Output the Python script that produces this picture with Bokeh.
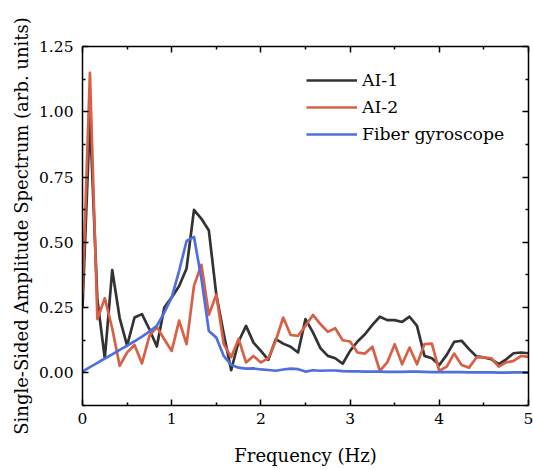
from bokeh.plotting import figure
from bokeh.models import (LinearAxis, Range1d, Legend, LegendItem, FixedTicker,
                          NumeralTickFormatter, CustomJSTickFormatter)
from bokeh.embed import file_html
from bokeh.resources import INLINE

freq = [0.0, 0.0833, 0.1667, 0.25, 0.3333, 0.4167, 0.5, 0.5833, 0.6667, 0.75,
        0.8333, 0.9167, 1.0, 1.0833, 1.1667, 1.25, 1.3333, 1.4167, 1.5, 1.5833,
        1.6667, 1.75, 1.8333, 1.9167, 2.0, 2.0833, 2.1667, 2.25, 2.3333, 2.4167,
        2.5, 2.5833, 2.6667, 2.75, 2.8333, 2.9167, 3.0, 3.0833, 3.1667, 3.25,
        3.3333, 3.4167, 3.5, 3.5833, 3.6667, 3.75, 3.8333, 3.9167, 4.0, 4.0833,
        4.1667, 4.25, 4.3333, 4.4167, 4.5, 4.5833, 4.6667, 4.75, 4.8333, 4.9167, 5.0]

ai1 = [0.25, 0.98, 0.28, 0.056, 0.394, 0.21, 0.104, 0.212, 0.225, 0.167,
       0.101, 0.25, 0.289, 0.333, 0.40, 0.624, 0.59, 0.545, 0.30, 0.15,
       0.01, 0.12, 0.18, 0.116, 0.084, 0.05, 0.129, 0.112, 0.10, 0.078,
       0.206, 0.155, 0.095, 0.065, 0.056, 0.035, 0.084, 0.12, 0.148, 0.184,
       0.215, 0.202, 0.202, 0.195, 0.215, 0.18, 0.065, 0.056, 0.03, 0.069,
       0.119, 0.123, 0.091, 0.063, 0.059, 0.052, 0.033, 0.052, 0.075, 0.078, 0.075]

ai2 = [0.3, 1.149, 0.206, 0.286, 0.17, 0.027, 0.078, 0.107, 0.036, 0.142,
       0.176, 0.129, 0.084, 0.20, 0.11, 0.334, 0.414, 0.222, 0.30, 0.11,
       0.06, 0.13, 0.04, 0.065, 0.04, 0.056, 0.123, 0.212, 0.145, 0.142,
       0.18, 0.222, 0.187, 0.157, 0.171, 0.125, 0.12, 0.078, 0.074, 0.10,
       0.008, 0.04, 0.11, 0.033, 0.097, 0.033, 0.11, 0.112, 0.008, 0.024,
       0.074, 0.03, 0.02, 0.059, 0.059, 0.056, 0.024, 0.04, 0.046, 0.065, 0.061]

gyro = [0.005, 0.022, 0.038, 0.055, 0.071, 0.088, 0.104, 0.121, 0.139, 0.158,
        0.18, 0.231, 0.289, 0.391, 0.505, 0.521, 0.36, 0.16, 0.135, 0.065,
        0.031, 0.02, 0.016, 0.017, 0.013, 0.011, 0.008, 0.013, 0.016, 0.014,
        0.005, 0.01, 0.008, 0.009, 0.009, 0.007, 0.006, 0.006, 0.005, 0.005,
        0.005, 0.004, 0.004, 0.004, 0.005, 0.005, 0.004, 0.003, 0.003, 0.003,
        0.003, 0.003, 0.002, 0.002, 0.002, 0.002, 0.001, 0.001, 0.002, 0.002, 0.001]

series_labels = ["AI-1", "AI-2", "Fiber gyroscope"]
series_colors = ["#333333", "#d95f45", "#4f6fe0"]

x_major = [0, 1, 2, 3, 4, 5]
x_minor = [0.5, 1.5, 2.5, 3.5, 4.5]
y_major = [0.0, 0.25, 0.5, 0.75, 1.0, 1.25]
y_minor = [-0.125, 0.125, 0.375, 0.625, 0.875, 1.125]

FONT = "DejaVu Serif"

p = figure(width=533, height=470, x_range=Range1d(0, 5), y_range=Range1d(-0.125, 1.25),
           output_backend="svg", toolbar_location=None,
           min_border_left=82, min_border_right=5, min_border_top=46, min_border_bottom=65,
           x_axis_label="Frequency (Hz)",
           y_axis_label="Single-Sided Amplitude Spectrum (arb. units)")
p.xgrid.visible = False
p.ygrid.visible = False
p.outline_line_color = None
p.background_fill_color = "white"

renderers = []
for ys, c in zip([ai1, ai2, gyro], series_colors):
    r = p.line(freq, ys, line_color=c, line_width=2.7, line_join="round")
    renderers.append(r)


def style_axis(ax, ticks, minor, label=True):
    ax.ticker = FixedTicker(ticks=ticks, minor_ticks=minor)
    ax.axis_line_color = "black"
    ax.axis_line_width = 1.5
    ax.major_tick_line_color = "black"
    ax.major_tick_line_width = 1.5
    ax.minor_tick_line_color = "black"
    ax.minor_tick_line_width = 1.5
    ax.major_tick_in = 6
    ax.major_tick_out = 0
    ax.minor_tick_in = 3
    ax.minor_tick_out = 0
    ax.major_label_text_font = FONT
    ax.major_label_text_font_size = "15.5px"
    ax.major_label_text_color = "black"
    ax.axis_label_text_font = FONT
    ax.axis_label_text_font_size = "18px"
    ax.axis_label_text_font_style = "normal"
    ax.axis_label_text_color = "black"
    if not label:
        ax.formatter = CustomJSTickFormatter(code="return ''")
        ax.major_label_standoff = 0


xa = p.xaxis[0]
style_axis(xa, x_major, x_minor)
xa.formatter = NumeralTickFormatter(format="0")
xa.major_label_standoff = 7
xa.axis_label_standoff = 18

ya = p.yaxis[0]
style_axis(ya, y_major, y_minor)
ya.formatter = NumeralTickFormatter(format="0.00")
ya.major_label_standoff = 9
ya.axis_label_standoff = 4

top = LinearAxis()
style_axis(top, x_major, x_minor, label=False)
p.add_layout(top, "above")
right = LinearAxis()
style_axis(right, y_major, y_minor, label=False)
p.add_layout(right, "right")

legend = Legend(items=[LegendItem(label=l, renderers=[r]) for l, r in zip(series_labels, renderers)],
                location=(224, 258))
legend.border_line_color = None
legend.background_fill_alpha = 0
legend.padding = 0
legend.margin = 0
legend.spacing = 1
legend.label_height = 26
legend.glyph_height = 26
legend.glyph_width = 51
legend.label_standoff = 5
legend.label_text_font = FONT
legend.label_text_font_size = "17.3px"
legend.label_text_color = "black"
p.add_layout(legend)

open("out.html", "w").write(file_html(p, INLINE))
